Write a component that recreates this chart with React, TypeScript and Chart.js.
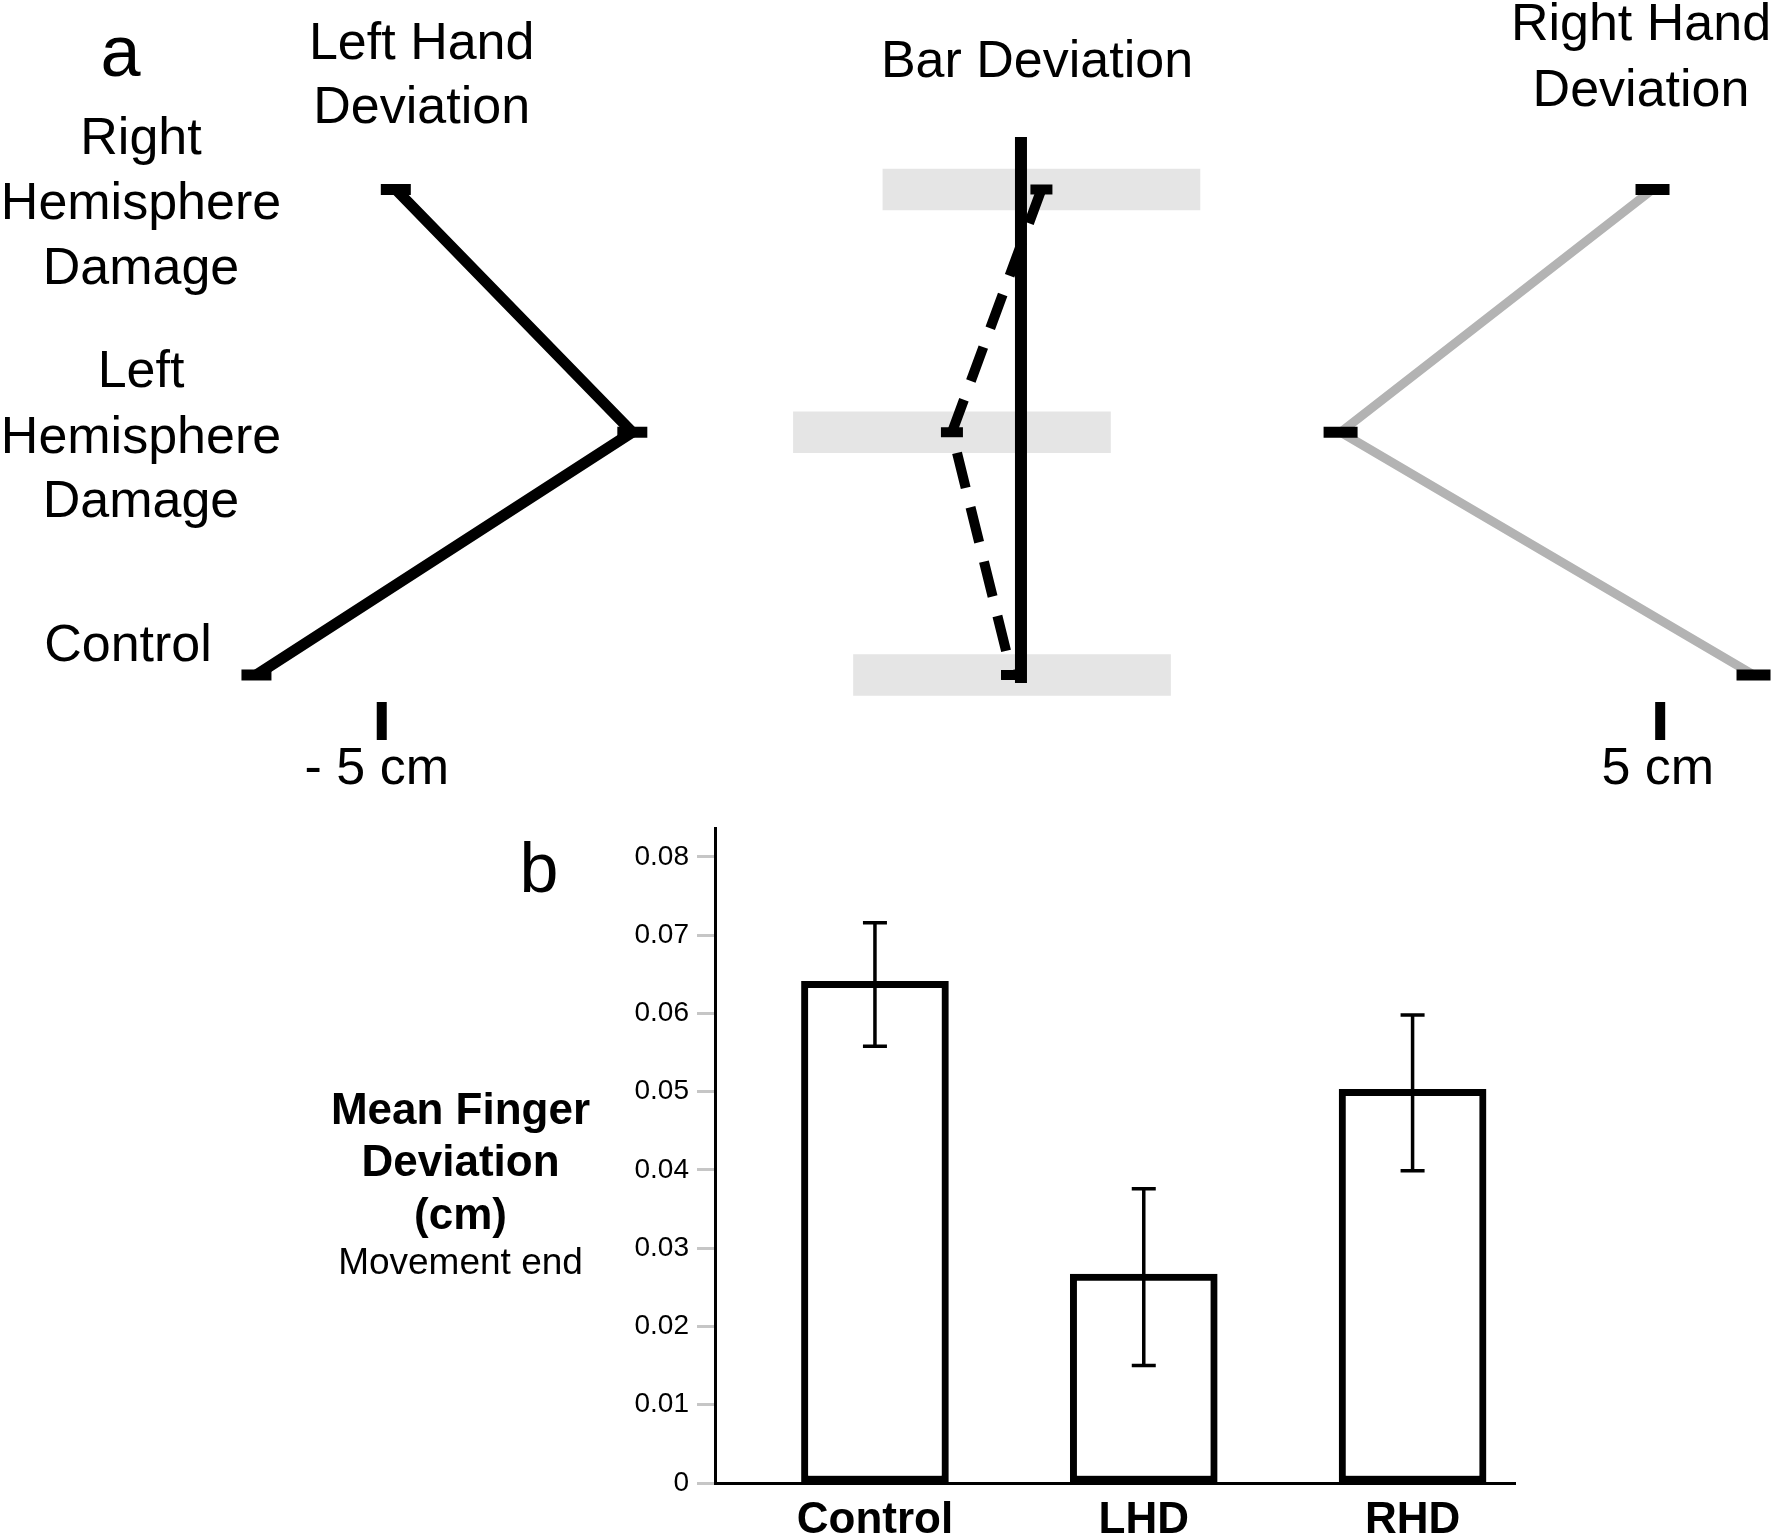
import React, { useEffect, useRef } from "react";
import { Chart, registerables } from "chart.js";

Chart.register(...registerables);

const FONT = '"Liberation Sans", Arial, Helvetica, sans-serif';

// ---------------- Panel a data ----------------
const groupLabels: string[][] = [
  ["Right", "Hemisphere", "Damage"],
  ["Left", "Hemisphere", "Damage"],
  ["Control"],
];
const groupRows = [0, 1, 2];
const leftHandDeviationCm = [-4.89, -3.04, -5.98];
const barDeviationCm = [0.16, -0.54, -0.07];
const rightHandDeviationCm = [4.94, 2.5, 5.73];
const barHalfLengthCm = 1.24;
const midlineCm = 0;
const midlineRowSpan = [-0.216, 2.033];
const scaleBarCm = [-5, 5];
const scaleBarRowSpan = [2.111, 2.268];
const scaleBarLabels = ["- 5 cm", "5 cm"];
const panelATitles: string[][] = [["Left Hand", "Deviation"], ["Bar Deviation"], ["Right Hand", "Deviation"]];

// ---------------- Panel b data ----------------
const categories = ["Control", "LHD", "RHD"];
const categoryPositions = [1, 2, 3];
const meanFingerDeviation = [0.0641, 0.0267, 0.0503];
const errorLow = [0.0558, 0.015, 0.0399];
const errorHigh = [0.0716, 0.0376, 0.0598];
const yTickValues = [0, 0.01, 0.02, 0.03, 0.04, 0.05, 0.06, 0.07, 0.08];
const yTickLabels = ["0", "0.01", "0.02", "0.03", "0.04", "0.05", "0.06", "0.07", "0.08"];
const yAxisTitleBold = ["Mean Finger", "Deviation", "(cm)"];
const yAxisTitleNormal = "Movement end";

// ---------------- layout ----------------
const W = 1775;
const A_H = 800;
const B_H = 738;

const LAYOUT_A = {
  xMin: -7.986,
  xMax: 5.898,
  yMin: -0.7806,
  yMax: 2.515,
  letter: { x: 120.5, y: 76, size: 72 },
  titleX: [421.7, 1037, 1641],
  titleY: [[58.7, 123.4], [77], [39.8, 105.6]],
  groupX: [141, 141, 128],
  groupY: [[154, 219, 283.6], [387, 452.7, 517.4], [661]],
  scaleLabelDx: [-5, -2.4],
  scaleLabelY: 784,
  fontSize: 52,
};

const LAYOUT_B = {
  letter: { x: 539, y: 92, size: 70 },
  titleX: 460.5,
  titleBoldY: [323.7, 375.5, 429],
  titleNormalY: 474,
};

const panelATextPlugin = {
  id: "panelAText",
  afterDraw(chart: any) {
    const { ctx } = chart;
    const xs = chart.scales.x;
    ctx.save();
    ctx.fillStyle = "#000";
    ctx.textAlign = "center";
    ctx.textBaseline = "alphabetic";
    ctx.font = `${LAYOUT_A.letter.size}px ${FONT}`;
    ctx.fillText("a", LAYOUT_A.letter.x, LAYOUT_A.letter.y);
    ctx.font = `${LAYOUT_A.fontSize}px ${FONT}`;
    panelATitles.forEach((lines, i) => {
      lines.forEach((t, j) => ctx.fillText(t, LAYOUT_A.titleX[i], LAYOUT_A.titleY[i][j]));
    });
    groupLabels.forEach((lines, i) => {
      lines.forEach((t, j) => ctx.fillText(t, LAYOUT_A.groupX[i], LAYOUT_A.groupY[i][j]));
    });
    scaleBarCm.forEach((c, i) => {
      ctx.fillText(scaleBarLabels[i], xs.getPixelForValue(c) + LAYOUT_A.scaleLabelDx[i], LAYOUT_A.scaleLabelY);
    });
    ctx.restore();
  },
};

const panelBTextPlugin = {
  id: "panelBText",
  afterDraw(chart: any) {
    const { ctx } = chart;
    ctx.save();
    ctx.fillStyle = "#000";
    ctx.textAlign = "center";
    ctx.textBaseline = "alphabetic";
    ctx.font = `${LAYOUT_B.letter.size}px ${FONT}`;
    ctx.fillText("b", LAYOUT_B.letter.x, LAYOUT_B.letter.y);
    ctx.font = `bold 44px ${FONT}`;
    yAxisTitleBold.forEach((t, i) => ctx.fillText(t, LAYOUT_B.titleX, LAYOUT_B.titleBoldY[i]));
    ctx.font = `37px ${FONT}`;
    ctx.fillText(yAxisTitleNormal, LAYOUT_B.titleX, LAYOUT_B.titleNormalY);
    ctx.restore();
  },
};

const errorBarPlugin = {
  id: "errorBars",
  afterDatasetsDraw(chart: any) {
    const { ctx } = chart;
    const xs = chart.scales.x;
    const ys = chart.scales.y;
    ctx.save();
    ctx.strokeStyle = "#000";
    ctx.lineWidth = 3.5;
    ctx.lineCap = "butt";
    categoryPositions.forEach((p, i) => {
      const px = xs.getPixelForValue(p);
      const top = ys.getPixelForValue(errorHigh[i]);
      const bot = ys.getPixelForValue(errorLow[i]);
      ctx.beginPath();
      ctx.moveTo(px, top);
      ctx.lineTo(px, bot);
      ctx.moveTo(px - 12, top);
      ctx.lineTo(px + 12, top);
      ctx.moveTo(px - 12, bot);
      ctx.lineTo(px + 12, bot);
      ctx.stroke();
    });
    ctx.restore();
  },
};

export default function App() {
  const refA = useRef<HTMLCanvasElement>(null);
  const refB = useRef<HTMLCanvasElement>(null);

  useEffect(() => {
    Chart.defaults.font.family = FONT;
    Chart.defaults.color = "#000";

    const lineCommon = {
      type: "line" as const,
      fill: false,
      tension: 0,
      borderCapStyle: "butt" as const,
      borderJoinStyle: "miter" as const,
      order: 1,
      clip: false,
    };

    const chartA = new Chart(refA.current as HTMLCanvasElement, {
      type: "line",
      data: {
        datasets: [
          {
            ...lineCommon,
            label: "Left Hand Deviation",
            data: groupRows.map((r, i) => ({ x: leftHandDeviationCm[i], y: r })),
            borderColor: "#000",
            borderWidth: 11,
            pointStyle: "line",
            pointRadius: 15,
            pointBorderWidth: 11,
            pointBorderColor: "#000",
            pointBackgroundColor: "#000",
          },
          {
            ...lineCommon,
            label: "Bar Deviation",
            data: groupRows.map((r, i) => ({ x: barDeviationCm[i], y: r })),
            borderColor: "#000",
            borderWidth: 10,
            borderDash: [36, 20],
            pointStyle: "line",
            pointRadius: 11,
            pointBorderWidth: 10,
            pointBorderColor: "#000",
            pointBackgroundColor: "#000",
          },
          {
            ...lineCommon,
            label: "Midline",
            data: midlineRowSpan.map((r) => ({ x: midlineCm, y: r })),
            borderColor: "#000",
            borderWidth: 12,
            pointRadius: 0,
          },
          {
            ...lineCommon,
            label: "Right Hand Deviation",
            data: groupRows.map((r, i) => ({ x: rightHandDeviationCm[i], y: r })),
            borderColor: "#b3b3b3",
            borderWidth: 9,
            pointStyle: "line",
            pointRadius: 17,
            pointBorderWidth: 11,
            pointBorderColor: "#000",
            pointBackgroundColor: "#000",
          },
          ...scaleBarCm.map((c) => ({
            ...lineCommon,
            label: "Scale " + c,
            data: scaleBarRowSpan.map((r) => ({ x: c, y: r })),
            borderColor: "#000",
            borderWidth: 10,
            pointRadius: 0,
          })),
          {
            type: "bar" as const,
            label: "Bar",
            indexAxis: "y" as const,
            data: groupRows.map((r, i) => ({
              y: r,
              x: [barDeviationCm[i] - barHalfLengthCm, barDeviationCm[i] + barHalfLengthCm],
            })),
            backgroundColor: "#e5e5e5",
            borderWidth: 0,
            barThickness: 41,
            order: 10,
          } as any,
        ],
      },
      options: {
        animation: false,
        responsive: false,
        events: [],
        layout: { padding: 0, autoPadding: false },
        plugins: { legend: { display: false }, tooltip: { enabled: false }, title: { display: false } },
        scales: {
          x: {
            type: "linear",
            min: LAYOUT_A.xMin,
            max: LAYOUT_A.xMax,
            display: false,
            offset: false,
            beginAtZero: false,
            grid: { offset: false },
          },
          y: {
            type: "linear",
            min: LAYOUT_A.yMin,
            max: LAYOUT_A.yMax,
            reverse: true,
            display: false,
            offset: false,
            beginAtZero: false,
            grid: { offset: false },
          },
        },
      } as any,
      plugins: [panelATextPlugin],
    });

    const chartB = new Chart(refB.current as HTMLCanvasElement, {
      type: "bar",
      data: {
        datasets: [
          {
            label: "Mean Finger Deviation",
            data: categoryPositions.map((p, i) => ({ x: p, y: meanFingerDeviation[i] })),
            backgroundColor: "#fff",
            borderColor: "#000",
            borderWidth: 7,
            borderSkipped: false,
            barThickness: 147,
          } as any,
        ],
      },
      options: {
        animation: false,
        responsive: false,
        events: [],
        layout: { padding: { top: 28, right: 260, left: 0, bottom: 0 } },
        plugins: { legend: { display: false }, tooltip: { enabled: false }, title: { display: false } },
        scales: {
          x: {
            type: "linear",
            min: 0.405,
            max: 3.381,
            offset: false,
            afterBuildTicks: (s: any) => {
              s.ticks = categoryPositions.map((v) => ({ value: v }));
            },
            afterFit: (s: any) => {
              s.height = 55;
            },
            grid: { display: false, drawTicks: false },
            border: { display: true, color: "#000", width: 3 },
            ticks: {
              callback: (_v: any, i: number) => categories[i],
              font: { size: 44, weight: "bold" },
              color: "#000",
              padding: 11,
              maxRotation: 0,
              autoSkip: false,
            },
          },
          y: {
            type: "linear",
            min: 0,
            max: 0.0837,
            afterBuildTicks: (s: any) => {
              s.ticks = yTickValues.map((v) => ({ value: v }));
            },
            afterFit: (s: any) => {
              s.width = 715;
            },
            grid: {
              display: true,
              drawOnChartArea: false,
              drawTicks: true,
              tickLength: 18,
              tickColor: "#c6c6c6",
              tickWidth: 3,
            },
            border: { display: true, color: "#000", width: 3 },
            ticks: {
              callback: (_v: any, i: number) => yTickLabels[i],
              font: { size: 28 },
              color: "#000",
              padding: 8,
              autoSkip: false,
            },
          },
        },
      } as any,
      plugins: [errorBarPlugin, panelBTextPlugin],
    });

    return () => {
      chartA.destroy();
      chartB.destroy();
    };
  }, []);

  return (
    <div style={{ position: "absolute", left: 0, top: 0, width: W, height: A_H + B_H, background: "#fff" }}>
      <canvas
        ref={refA}
        width={W}
        height={A_H}
        style={{ position: "absolute", left: 0, top: 0, width: W, height: A_H }}
      />
      <canvas
        ref={refB}
        width={W}
        height={B_H}
        style={{ position: "absolute", left: 0, top: A_H, width: W, height: B_H }}
      />
    </div>
  );
}
